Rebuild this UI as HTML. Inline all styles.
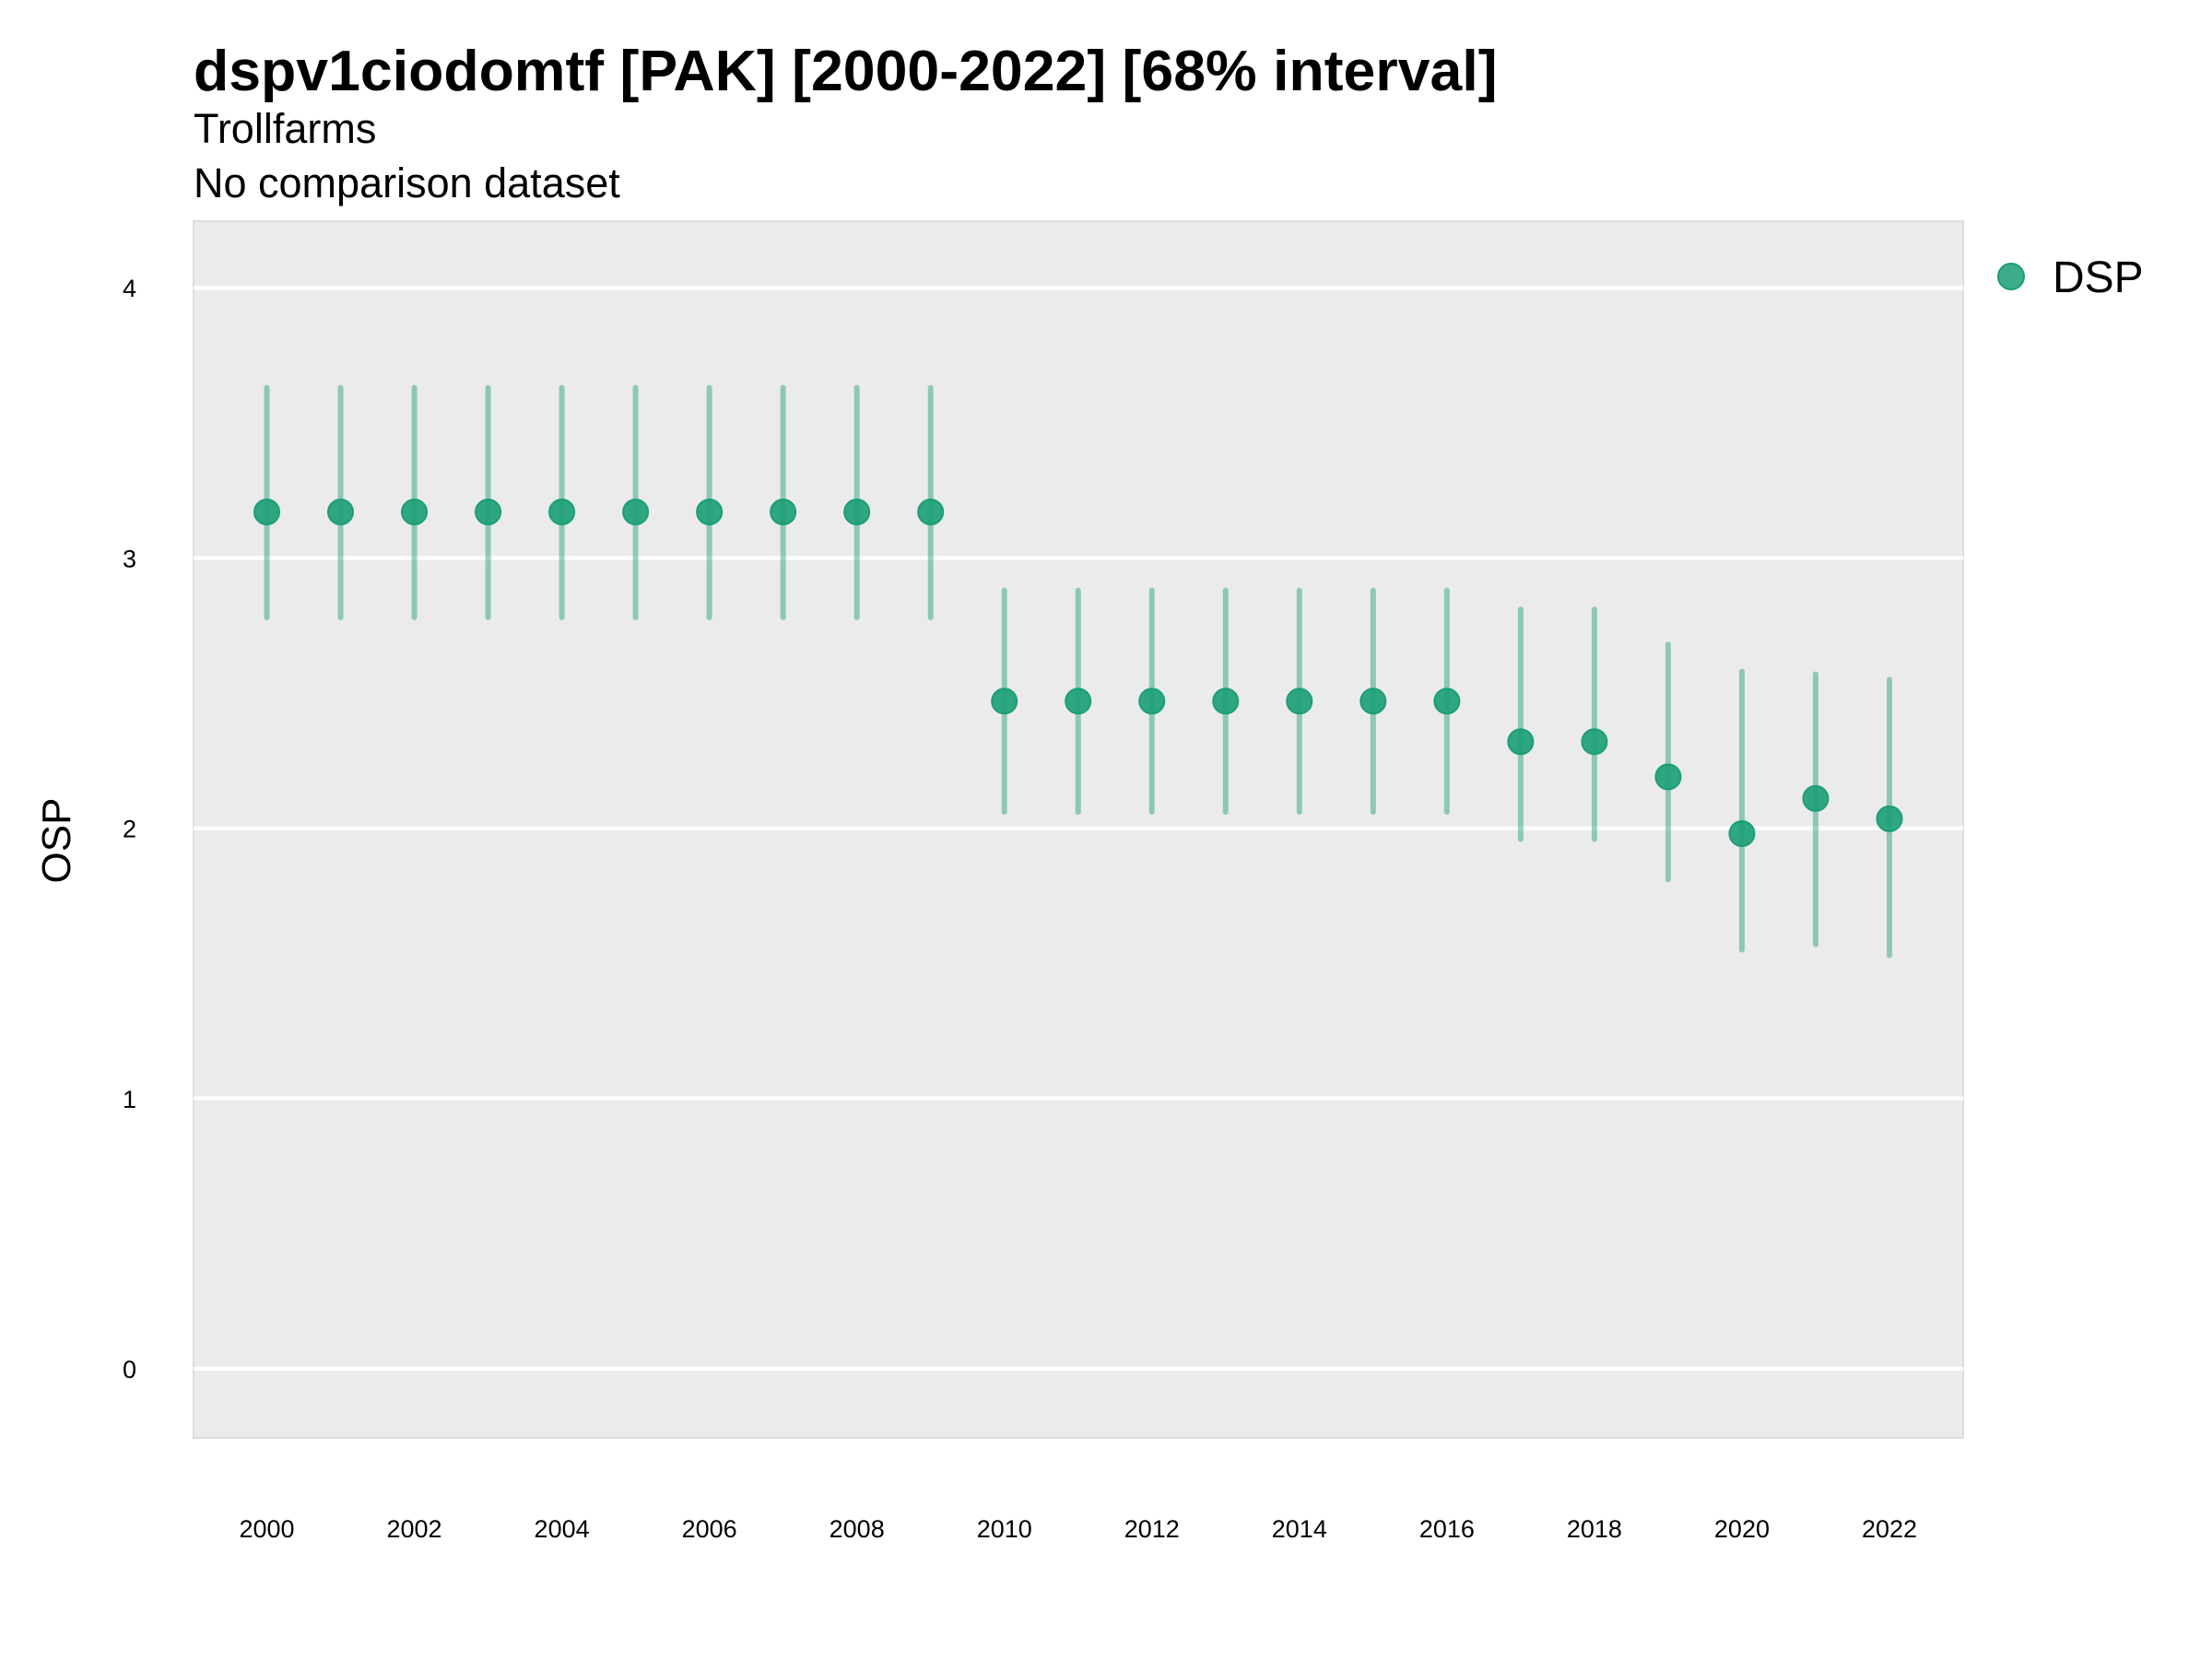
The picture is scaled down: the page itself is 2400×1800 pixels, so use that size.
<!DOCTYPE html>
<html><head><meta charset="utf-8">
<style>
html,body{margin:0;padding:0;background:#fff;}
svg{display:block;font-family:"Liberation Sans",Arial,sans-serif;}
</style></head>
<body>
<svg id="chart" width="2400" height="1800" viewBox="0 0 2400 1800" xmlns="http://www.w3.org/2000/svg">
<text x="210" y="98" font-size="62.6" font-weight="bold" fill="#000">dspv1ciodomtf [PAK] [2000-2022] [68% interval]</text>
<text x="210" y="155" font-size="45" fill="#000">Trollfarms</text>
<text x="210" y="214" font-size="45" fill="#000">No comparison dataset</text>
<rect x="210" y="240" width="1920" height="1320" fill="#ebebeb" stroke="#dddddd" stroke-width="2"/>
<g id="grid"></g>
<g id="yticks"></g>
<g id="xticks"></g>
<g id="marks"></g>
<text transform="translate(76,912) rotate(-90)" text-anchor="middle" font-size="44" fill="#000">OSP</text>
<g>
<circle cx="2182" cy="300" r="14" fill="#1b9e77" fill-opacity="0.85" stroke="#1b9e77" stroke-width="2"/>
<text x="2227" y="317" font-size="48" fill="#000">DSP</text>
</g>
</svg>
<script>
const years = [2000,2001,2002,2003,2004,2005,2006,2007,2008,2009,2010,2011,2012,2013,2014,2015,2016,2017,2018,2019,2020,2021,2022];
const values = [3.17,3.17,3.17,3.17,3.17,3.17,3.17,3.17,3.17,3.17,2.47,2.47,2.47,2.47,2.47,2.47,2.47,2.32,2.32,2.19,1.98,2.11,2.035];
const upper = [3.63,3.63,3.63,3.63,3.63,3.63,3.63,3.63,3.63,3.63,2.88,2.88,2.88,2.88,2.88,2.88,2.88,2.81,2.81,2.68,2.58,2.57,2.55];
const lower = [2.78,2.78,2.78,2.78,2.78,2.78,2.78,2.78,2.78,2.78,2.06,2.06,2.06,2.06,2.06,2.06,2.06,1.96,1.96,1.81,1.55,1.57,1.53];
const yTicks = [0,1,2,3,4];
const xTickLabels = [2000,2002,2004,2006,2008,2010,2012,2014,2016,2018,2020,2022];

const NS = "http://www.w3.org/2000/svg";
function xScale(yr){ return 289.5 + (yr - 2000) * (2050 - 289.5) / 22; }
function yScale(v){ return 1485 - v * 293.2; }
function mk(tag, attrs, parent){
  const e = document.createElementNS(NS, tag);
  for (const k in attrs) e.setAttribute(k, attrs[k]);
  parent.appendChild(e);
  return e;
}
const grid = document.getElementById('grid');
const yt = document.getElementById('yticks');
const xt = document.getElementById('xticks');
const marks = document.getElementById('marks');

yTicks.forEach(t => {
  const l = mk('line', {x1:210, x2:2130, y1:yScale(t), y2:yScale(t), stroke:'#ffffff', 'stroke-width':4.5}, grid);
  
  
  const tx = mk('text', {x:148, y:yScale(t)+10, 'text-anchor':'end', 'font-size':27, fill:'#000'}, yt);
  tx.textContent = t;
  
  
});
xTickLabels.forEach(t => {
  const tx = mk('text', {x:xScale(t), y:1668, 'text-anchor':'middle', 'font-size':27, fill:'#000'}, xt);
  tx.textContent = t;
  
  
});
years.forEach((yr, i) => {
  const x = xScale(yr);
  const eb = mk('line', {x1:x, x2:x, y1:yScale(upper[i]), y2:yScale(lower[i]), stroke:'#1b9e77', 'stroke-opacity':0.45, 'stroke-width':6, 'stroke-linecap':'round'}, marks);
  
  
});
years.forEach((yr, i) => {
  const c = mk('circle', {cx:xScale(yr), cy:yScale(values[i]), r:13.5, fill:'#1b9e77', 'fill-opacity':0.9, stroke:'#1b9e77', 'stroke-width':2}, marks);
  
  
});
</script>
</body></html>
